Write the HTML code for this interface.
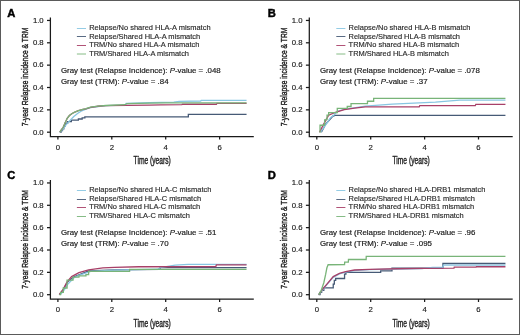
<!DOCTYPE html>
<html><head><meta charset="utf-8"><style>
html,body{margin:0;padding:0;background:#fff;}
body{width:520px;height:335px;overflow:hidden;}
svg{display:block;filter:grayscale(0%);}
text{font-family:"Liberation Sans",sans-serif;}
.lt{font-size:11.2px;font-weight:bold;fill:#000;stroke:#000;stroke-width:0.45px;}
.tk{font-size:7.75px;fill:#1a1a1a;stroke:#1a1a1a;stroke-width:0.15px;}
.lab{font-size:10.2px;fill:#1e1e1e;stroke:#1e1e1e;stroke-width:0.4px;}
.lg{font-size:7.46px;fill:#2a2a2a;stroke:#2a2a2a;stroke-width:0.15px;}
.gt{font-size:7.9px;fill:#1a1a1a;stroke:#1a1a1a;stroke-width:0.18px;}
.ax{stroke:#1a1a1a;stroke-width:1.25;fill:none;}
.cv{fill:none;stroke-width:1.3;}
</style></head><body>
<svg width="520" height="335" viewBox="0 0 520 335">
<rect x="0.5" y="0.5" width="519" height="334" fill="#fff" stroke="#5a5a5a" stroke-width="1"/>
<g transform="translate(0,0)">
<text x="7.2" y="16.8" class="lt">A</text>
<path d="M50.4,17.5V136.5H253.8" class="ax"/>
<path d="M47,132.20H50.4" class="ax"/>
<text x="43.7" y="134.50" class="tk" text-anchor="end">0.0</text>
<path d="M47,109.85H50.4" class="ax"/>
<text x="43.7" y="112.15" class="tk" text-anchor="end">0.2</text>
<path d="M47,87.50H50.4" class="ax"/>
<text x="43.7" y="89.80" class="tk" text-anchor="end">0.4</text>
<path d="M47,65.15H50.4" class="ax"/>
<text x="43.7" y="67.45" class="tk" text-anchor="end">0.6</text>
<path d="M47,42.80H50.4" class="ax"/>
<text x="43.7" y="45.10" class="tk" text-anchor="end">0.8</text>
<path d="M47,20.45H50.4" class="ax"/>
<text x="43.7" y="22.75" class="tk" text-anchor="end">1.0</text>
<path d="M57.90,136.5V139.5" class="ax"/>
<text x="57.90" y="149.6" class="tk" text-anchor="middle">0</text>
<path d="M111.80,136.5V139.5" class="ax"/>
<text x="111.80" y="149.6" class="tk" text-anchor="middle">2</text>
<path d="M165.70,136.5V139.5" class="ax"/>
<text x="165.70" y="149.6" class="tk" text-anchor="middle">4</text>
<path d="M219.60,136.5V139.5" class="ax"/>
<text x="219.60" y="149.6" class="tk" text-anchor="middle">6</text>
<text transform="translate(152.2,164.2) scale(0.655,1)" class="lab" text-anchor="middle">Time (years)</text>
<text transform="translate(28.0,76.9) rotate(-90) scale(0.68,1)" class="lab" style="font-size:9.9px" text-anchor="middle">7-year Relapse incidence &amp; TRM</text>
<path d="M76.90,28.50H86.00" stroke="#88c6e2" stroke-width="0.9"/>
<text x="89.20" y="29.90" class="lg">Relapse/No shared HLA-A mismatch</text>
<path d="M76.90,36.50H86.00" stroke="#465a76" stroke-width="0.9"/>
<text x="89.20" y="38.55" class="lg">Relapse/Shared HLA-A mismatch</text>
<path d="M76.90,45.50H86.00" stroke="#a84068" stroke-width="0.9"/>
<text x="89.20" y="47.20" class="lg">TRM/No shared HLA-A mismatch</text>
<path d="M76.90,54.00H86.00" stroke="#78b478" stroke-width="0.9"/>
<text x="89.20" y="55.85" class="lg">TRM/Shared HLA-A mismatch</text>
<text x="60.90" y="72.7" class="gt">Gray test (Relapse Incidence): <tspan font-style="italic">P</tspan>-value = .048</text>
<text x="60.90" y="83.9" class="gt">Gray test (TRM): <tspan font-style="italic">P</tspan>-value = .84</text>
<path d="M59.79,132.20H61.13V130.52H62.48V128.85H63.83V126.05H65.18V123.26H67.60V121.58H71.38V120.13H78.38V119.01H82.16V117.90H84.85V116.89H188.34V114.32H246.55V114.32" stroke="#465a76" class="cv"/>
<path d="M59.79,132.20 L63.29,128.85 L65.98,124.94 L70.30,120.13 L73.80,116.55 L77.57,113.43 L81.08,111.19 L85.93,109.07 L90.51,107.61 L98.06,106.50 L105.87,105.72 L125.28,105.04 L126.08,103.48 L149.53,102.59 L173.78,102.03 L179.17,101.36 L200.73,101.02 L201.27,100.35 L246.55,100.35" stroke="#88c6e2" class="cv"/>
<path d="M59.79,132.20 L63.21,127.28 L64.99,123.15 L67.20,118.34 L69.41,115.55 L72.10,113.43 L74.80,112.08 L78.38,110.74 L82.91,109.40 L85.93,108.84 L90.51,107.28 L98.06,106.27 L105.87,105.72 L126.89,105.38 L149.53,105.04 L160.85,104.82 L181.87,104.60 L182.41,104.26 L216.37,104.26 L216.91,103.37 L246.55,103.37" stroke="#a84068" class="cv"/>
<path d="M59.79,132.20 L63.21,127.28 L64.99,123.15 L67.20,118.34 L69.41,115.55 L72.10,113.43 L74.80,112.08 L78.38,110.63 L82.91,109.29 L85.93,108.73 L90.51,107.17 L98.06,106.16 L105.87,105.49 L125.28,104.71 L126.89,103.59 L149.53,103.03 L165.70,102.92 L246.55,102.92" stroke="#78b478" class="cv"/>
</g>
<g transform="translate(258.9,0)">
<text x="8.9" y="16.8" class="lt">B</text>
<path d="M50.4,17.5V136.5H253.8" class="ax"/>
<path d="M47,132.20H50.4" class="ax"/>
<text x="43.7" y="134.50" class="tk" text-anchor="end">0.0</text>
<path d="M47,109.85H50.4" class="ax"/>
<text x="43.7" y="112.15" class="tk" text-anchor="end">0.2</text>
<path d="M47,87.50H50.4" class="ax"/>
<text x="43.7" y="89.80" class="tk" text-anchor="end">0.4</text>
<path d="M47,65.15H50.4" class="ax"/>
<text x="43.7" y="67.45" class="tk" text-anchor="end">0.6</text>
<path d="M47,42.80H50.4" class="ax"/>
<text x="43.7" y="45.10" class="tk" text-anchor="end">0.8</text>
<path d="M47,20.45H50.4" class="ax"/>
<text x="43.7" y="22.75" class="tk" text-anchor="end">1.0</text>
<path d="M57.90,136.5V139.5" class="ax"/>
<text x="57.90" y="149.6" class="tk" text-anchor="middle">0</text>
<path d="M111.80,136.5V139.5" class="ax"/>
<text x="111.80" y="149.6" class="tk" text-anchor="middle">2</text>
<path d="M165.70,136.5V139.5" class="ax"/>
<text x="165.70" y="149.6" class="tk" text-anchor="middle">4</text>
<path d="M219.60,136.5V139.5" class="ax"/>
<text x="219.60" y="149.6" class="tk" text-anchor="middle">6</text>
<text transform="translate(152.2,164.2) scale(0.655,1)" class="lab" text-anchor="middle">Time (years)</text>
<text transform="translate(28.0,76.9) rotate(-90) scale(0.68,1)" class="lab" style="font-size:9.9px" text-anchor="middle">7-year Relapse incidence &amp; TRM</text>
<path d="M77.40,28.50H86.50" stroke="#88c6e2" stroke-width="0.9"/>
<text x="89.70" y="29.90" class="lg">Relapse/No shared HLA-B mismatch</text>
<path d="M77.40,36.50H86.50" stroke="#465a76" stroke-width="0.9"/>
<text x="89.70" y="38.55" class="lg">Relapse/Shared HLA-B mismatch</text>
<path d="M77.40,45.50H86.50" stroke="#a84068" stroke-width="0.9"/>
<text x="89.70" y="47.20" class="lg">TRM/No shared HLA-B mismatch</text>
<path d="M77.40,54.00H86.50" stroke="#78b478" stroke-width="0.9"/>
<text x="89.70" y="55.85" class="lg">TRM/Shared HLA-B mismatch</text>
<text x="61.00" y="72.7" class="gt">Gray test (Relapse Incidence): <tspan font-style="italic">P</tspan>-value = .078</text>
<text x="61.00" y="83.9" class="gt">Gray test (TRM): <tspan font-style="italic">P</tspan>-value = .37</text>
<path d="M62.48,132.20 L64.64,128.29 L66.52,124.38 L70.03,120.47 L73.80,116.22 L74.88,116.22 L75.69,115.33 L246.55,115.33" stroke="#465a76" class="cv"/>
<path d="M61.67,132.20 L65.72,126.28 L68.68,122.25 L71.64,117.67 L74.88,115.21 L76.77,113.20 L79.46,110.97 L85.39,109.29 L106.41,106.16 L133.36,104.15 L176.48,102.14 L200.73,100.13 L246.55,100.13" stroke="#88c6e2" class="cv"/>
<path d="M60.59,132.20 L64.64,124.38 L69.76,115.21 L75.69,112.64 L85.39,109.63 L95.63,108.17 L106.41,106.83 L160.31,106.83 L160.85,105.72 L216.37,105.72 L216.91,104.37 L246.55,104.37" stroke="#a84068" class="cv"/>
<path d="M60.59,132.20H61.13V125.27H64.64V124.82H65.72V119.80H67.33V119.35H68.14V115.21H69.76V112.64H78.38V108.40H88.35V106.50H92.13V103.59H108.57V101.25H114.76V98.45H246.55V98.45" stroke="#78b478" class="cv"/>
</g>
<g transform="translate(0,162.5)">
<text x="7.2" y="16.8" class="lt">C</text>
<path d="M50.4,17.5V136.5H253.8" class="ax"/>
<path d="M47,132.20H50.4" class="ax"/>
<text x="43.7" y="134.50" class="tk" text-anchor="end">0.0</text>
<path d="M47,109.85H50.4" class="ax"/>
<text x="43.7" y="112.15" class="tk" text-anchor="end">0.2</text>
<path d="M47,87.50H50.4" class="ax"/>
<text x="43.7" y="89.80" class="tk" text-anchor="end">0.4</text>
<path d="M47,65.15H50.4" class="ax"/>
<text x="43.7" y="67.45" class="tk" text-anchor="end">0.6</text>
<path d="M47,42.80H50.4" class="ax"/>
<text x="43.7" y="45.10" class="tk" text-anchor="end">0.8</text>
<path d="M47,20.45H50.4" class="ax"/>
<text x="43.7" y="22.75" class="tk" text-anchor="end">1.0</text>
<path d="M57.90,136.5V139.5" class="ax"/>
<text x="57.90" y="149.6" class="tk" text-anchor="middle">0</text>
<path d="M111.80,136.5V139.5" class="ax"/>
<text x="111.80" y="149.6" class="tk" text-anchor="middle">2</text>
<path d="M165.70,136.5V139.5" class="ax"/>
<text x="165.70" y="149.6" class="tk" text-anchor="middle">4</text>
<path d="M219.60,136.5V139.5" class="ax"/>
<text x="219.60" y="149.6" class="tk" text-anchor="middle">6</text>
<text transform="translate(152.2,164.2) scale(0.655,1)" class="lab" text-anchor="middle">Time (years)</text>
<text transform="translate(28.0,76.9) rotate(-90) scale(0.68,1)" class="lab" style="font-size:9.9px" text-anchor="middle">7-year Relapse incidence &amp; TRM</text>
<path d="M76.90,28.00H86.00" stroke="#88c6e2" stroke-width="0.9"/>
<text x="89.20" y="29.60" class="lg">Relapse/No shared HLA-C mismatch</text>
<path d="M76.90,37.00H86.00" stroke="#465a76" stroke-width="0.9"/>
<text x="89.20" y="38.25" class="lg">Relapse/Shared HLA-C mismatch</text>
<path d="M76.90,45.00H86.00" stroke="#a84068" stroke-width="0.9"/>
<text x="89.20" y="46.90" class="lg">TRM/No shared HLA-C mismatch</text>
<path d="M76.90,54.00H86.00" stroke="#78b478" stroke-width="0.9"/>
<text x="89.20" y="55.55" class="lg">TRM/Shared HLA-C mismatch</text>
<text x="60.90" y="72.7" class="gt">Gray test (Relapse Incidence): <tspan font-style="italic">P</tspan>-value = .51</text>
<text x="60.90" y="83.9" class="gt">Gray test (TRM): <tspan font-style="italic">P</tspan>-value = .70</text>
<path d="M59.52,132.20 L63.29,127.17 L67.60,119.35 L74.07,114.32 L88.62,108.51 L114.50,107.39 L159.77,106.94 L160.31,105.10 L246.55,105.10" stroke="#465a76" class="cv"/>
<path d="M60.06,132.20 L63.29,128.85 L68.14,121.25 L74.07,115.21 L78.92,112.76 L90.78,108.96 L114.50,107.61 L157.62,106.72 L160.31,105.16 L175.13,102.70 L188.07,101.80 L246.55,101.80" stroke="#88c6e2" class="cv"/>
<path d="M59.25,132.20 L63.29,126.61 L67.06,119.46 L71.64,114.10 L78.92,110.07 L88.62,107.39 L102.91,105.38 L114.50,104.82 L138.75,104.26 L215.83,104.04 L216.37,102.47 L246.55,102.47" stroke="#a84068" class="cv"/>
<path d="M59.25,132.20H60.59V129.96H63.29V125.49H67.06V117.56H72.99V114.66H78.92V113.43H85.93V112.08H88.62V108.84H129.59V106.94H246.55V106.94" stroke="#78b478" class="cv"/>
</g>
<g transform="translate(258.9,162.5)">
<text x="8.9" y="16.8" class="lt">D</text>
<path d="M50.4,17.5V136.5H253.8" class="ax"/>
<path d="M47,132.20H50.4" class="ax"/>
<text x="43.7" y="134.50" class="tk" text-anchor="end">0.0</text>
<path d="M47,109.85H50.4" class="ax"/>
<text x="43.7" y="112.15" class="tk" text-anchor="end">0.2</text>
<path d="M47,87.50H50.4" class="ax"/>
<text x="43.7" y="89.80" class="tk" text-anchor="end">0.4</text>
<path d="M47,65.15H50.4" class="ax"/>
<text x="43.7" y="67.45" class="tk" text-anchor="end">0.6</text>
<path d="M47,42.80H50.4" class="ax"/>
<text x="43.7" y="45.10" class="tk" text-anchor="end">0.8</text>
<path d="M47,20.45H50.4" class="ax"/>
<text x="43.7" y="22.75" class="tk" text-anchor="end">1.0</text>
<path d="M57.90,136.5V139.5" class="ax"/>
<text x="57.90" y="149.6" class="tk" text-anchor="middle">0</text>
<path d="M111.80,136.5V139.5" class="ax"/>
<text x="111.80" y="149.6" class="tk" text-anchor="middle">2</text>
<path d="M165.70,136.5V139.5" class="ax"/>
<text x="165.70" y="149.6" class="tk" text-anchor="middle">4</text>
<path d="M219.60,136.5V139.5" class="ax"/>
<text x="219.60" y="149.6" class="tk" text-anchor="middle">6</text>
<text transform="translate(152.2,164.2) scale(0.655,1)" class="lab" text-anchor="middle">Time (years)</text>
<text transform="translate(28.0,76.9) rotate(-90) scale(0.68,1)" class="lab" style="font-size:9.9px" text-anchor="middle">7-year Relapse incidence &amp; TRM</text>
<path d="M77.40,28.00H86.50" stroke="#88c6e2" stroke-width="0.9"/>
<text x="89.70" y="29.60" class="lg">Relapse/No shared HLA-DRB1 mismatch</text>
<path d="M77.40,37.00H86.50" stroke="#465a76" stroke-width="0.9"/>
<text x="89.70" y="38.25" class="lg">Relapse/Shared HLA-DRB1 mismatch</text>
<path d="M77.40,45.00H86.50" stroke="#a84068" stroke-width="0.9"/>
<text x="89.70" y="46.90" class="lg">TRM/No shared HLA-DRB1 mismatch</text>
<path d="M77.40,54.00H86.50" stroke="#78b478" stroke-width="0.9"/>
<text x="89.70" y="55.55" class="lg">TRM/Shared HLA-DRB1 mismatch</text>
<text x="61.00" y="72.7" class="gt">Gray test (Relapse Incidence): <tspan font-style="italic">P</tspan>-value = .96</text>
<text x="61.00" y="83.9" class="gt">Gray test (TRM): <tspan font-style="italic">P</tspan>-value = .095</text>
<path d="M59.79,132.20H61.13V129.96H62.75V127.73H64.91V125.38H74.34V121.58H75.42V117.90H76.77V116.00H85.66V111.53H87.01V109.85H121.77V108.29H133.09V105.60H184.03V101.02H246.55V101.02" stroke="#465a76" class="cv"/>
<path d="M59.79,132.20 L63.29,127.73 L68.01,122.14 L74.34,114.88 L80.54,111.41 L86.74,109.51 L95.63,108.06 L110.72,107.17 L138.75,106.50 L163.00,106.05 L173.78,104.82 L184.03,104.82 L184.56,102.59 L246.55,102.59" stroke="#88c6e2" class="cv"/>
<path d="M59.79,132.20 L63.29,127.17 L68.01,121.58 L74.34,114.10 L80.54,110.86 L86.74,109.07 L95.63,107.50 L110.72,106.83 L138.75,106.27 L165.70,105.83 L195.08,105.72 L195.34,104.71 L217.17,104.71 L217.44,104.26 L246.55,104.26" stroke="#a84068" class="cv"/>
<path d="M59.79,132.20 L61.94,128.85 L64.91,120.24 L66.79,111.64 L68.01,105.27 L69.22,102.25 L85.66,102.03 L85.79,99.68 L89.43,99.68 L89.57,97.00 L107.22,97.00 L107.35,93.87 L246.55,93.87" stroke="#78b478" class="cv"/>
</g>
</svg>
</body></html>
